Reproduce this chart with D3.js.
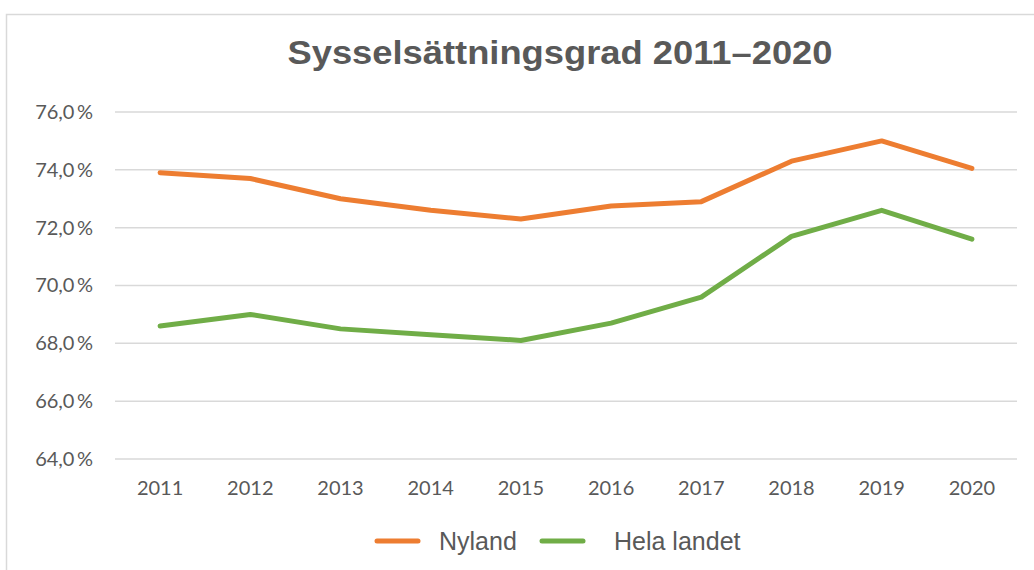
<!DOCTYPE html>
<html lang="sv">
<head>
<meta charset="utf-8">
<title>Sysselsättningsgrad 2011–2020</title>
<style>
  body { margin: 0; background: #fff; }
  text { fill: #595959; }
</style>
</head>
<body>
<script src="https://cdn.jsdelivr.net/npm/d3@7"></script>
<script>
var years = ["2011","2012","2013","2014","2015","2016","2017","2018","2019","2020"];
var nyland = [73.9, 73.7, 73.0, 72.6, 72.3, 72.75, 72.9, 74.3, 75.0, 74.05];
var helaLandet = [68.6, 69.0, 68.5, 68.3, 68.1, 68.7, 69.6, 71.7, 72.6, 71.6];
var yTicks = [64, 66, 68, 70, 72, 74, 76];
var seriesNames = ["Nyland", "Hela landet"];
var colors = ["#ed7d31", "#70ad47"];

var w = 1034, h = 570;
var plotLeft = 115, plotRight = 1017, plotTop = 112, plotBottom = 459;

var svg = d3.select("body").append("svg").attr("width", w).attr("height", h);

// chart border
svg.append("rect")
  .attr("x", 6.5).attr("y", 14.5).attr("width", w + 10).attr("height", h)
  .attr("fill", "none").attr("stroke", "#d9d9d9").attr("stroke-width", 1.5);

svg.append("text")
  .attr("x", 560).attr("y", 64)
  .attr("text-anchor", "middle")
  .attr("textLength", 545).attr("lengthAdjust", "spacingAndGlyphs")
  .style("font-family", "Liberation Sans, Arial, sans-serif")
  .style("font-weight", "bold").style("font-size", "34px")
  .text("Sysselsättningsgrad 2011–2020");

var x = d3.scaleBand().domain(years).range([plotLeft, plotRight]);
var y = d3.scaleLinear().domain([64, 76]).range([plotBottom, plotTop]);

var fmt = function(d){ return d.toFixed(1).replace(".", ",") + "\u2009%"; };

// grid
svg.append("g").selectAll("line").data(yTicks).enter().append("line")
  .attr("x1", plotLeft).attr("x2", plotRight)
  .attr("y1", function(d){ return y(d); }).attr("y2", function(d){ return y(d); })
  .attr("stroke", "#d9d9d9").attr("stroke-width", 1.5);

// y axis labels
var yAxis = d3.axisLeft(y).tickValues(yTicks).tickFormat(fmt).tickSize(0).tickPadding(22);
var gy = svg.append("g").attr("transform", "translate(" + plotLeft + ",0)").call(yAxis);
gy.select(".domain").remove();
gy.selectAll("text")
  .style("font-family", "Lato, 'Open Sans', sans-serif")
  .style("font-size", "20px").attr("fill", "#595959");

// x axis labels
var xAxis = d3.axisBottom(x).tickSize(0).tickPadding(22);
var gx = svg.append("g").attr("transform", "translate(0," + plotBottom + ")").call(xAxis);
gx.select(".domain").remove();
gx.selectAll("text")
  .style("font-family", "Lato, 'Open Sans', sans-serif")
  .style("font-size", "20px").attr("fill", "#595959");

var line = d3.line()
  .x(function(d, i){ return x(years[i]) + x.bandwidth() / 2; })
  .y(function(d){ return y(d); });

svg.selectAll("path.series")
  .data([nyland, helaLandet])
  .enter().append("path")
  .attr("class", "series")
  .attr("d", line)
  .attr("fill", "none")
  .attr("stroke", function(d, i){ return colors[i]; })
  .attr("stroke-width", 5)
  .attr("stroke-linejoin", "round")
  .attr("stroke-linecap", "round");

// legend
var legendX = [377, 542];
var lg = svg.selectAll("g.legend").data(seriesNames).enter().append("g")
  .attr("class", "legend")
  .attr("transform", function(d, i){ return "translate(" + legendX[i] + ",541)"; });
lg.append("line")
  .attr("x1", 0).attr("x2", 41).attr("y1", 0).attr("y2", 0)
  .attr("stroke", function(d, i){ return colors[i]; })
  .attr("stroke-width", 5).attr("stroke-linecap", "round");
lg.append("text")
  .attr("x", function(d, i){ return i === 0 ? 62 : 72; }).attr("y", 9)
  .style("font-family", "Liberation Sans, Arial, sans-serif")
  .style("font-size", "25px")
  .text(function(d){ return d; });
</script>
</body>
</html>
